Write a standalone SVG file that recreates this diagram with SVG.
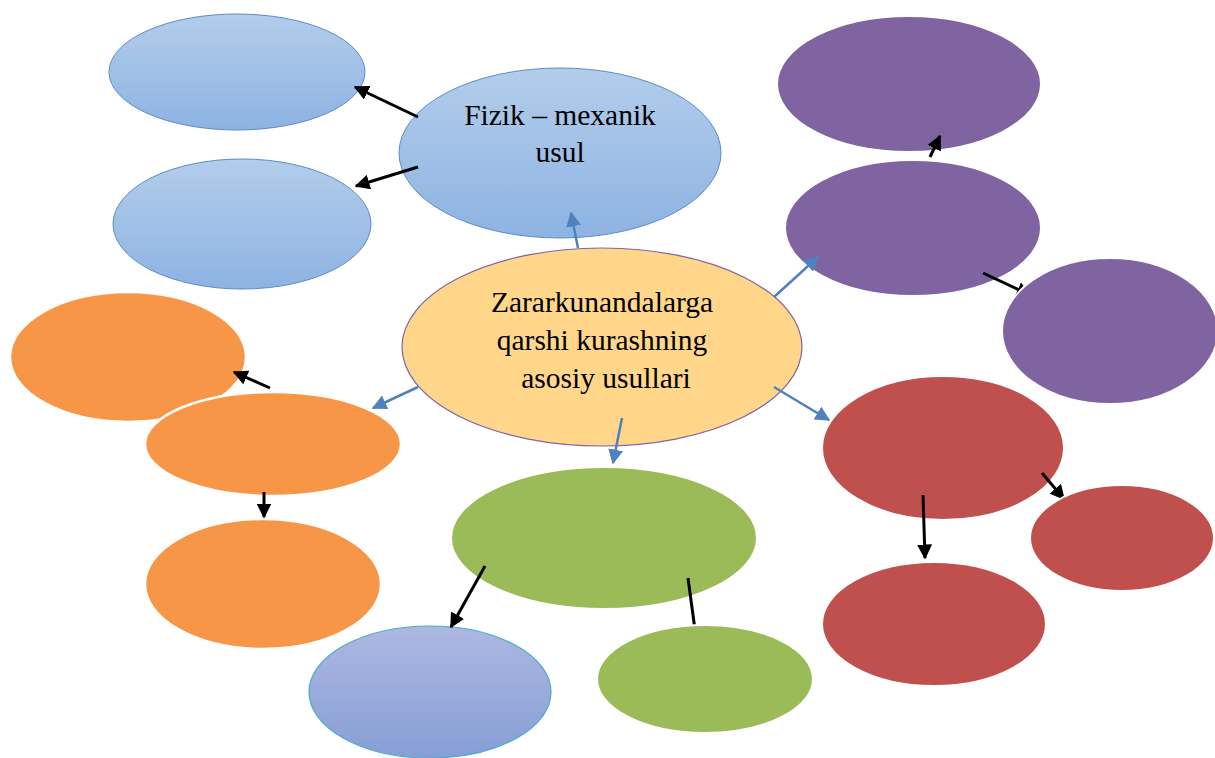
<svg xmlns="http://www.w3.org/2000/svg" width="1215" height="758" viewBox="0 0 1215 758">
<defs>
<linearGradient id="gBlue" x1="0" y1="0" x2="0" y2="1"><stop offset="0" stop-color="#B3CDEB"/><stop offset="1" stop-color="#8DB3E2"/></linearGradient>
<linearGradient id="gViolet" x1="0" y1="0" x2="0" y2="1"><stop offset="0" stop-color="#ADB8E2"/><stop offset="1" stop-color="#879ED5"/></linearGradient>
<marker id="bk" viewBox="0 0 10 10" refX="9" refY="5" markerWidth="5" markerHeight="5" orient="auto" markerUnits="strokeWidth"><path d="M0,0 L10,5 L0,10 z" fill="#000"/></marker>
<marker id="bl" viewBox="0 0 10 10" refX="9" refY="5" markerWidth="6" markerHeight="6" orient="auto" markerUnits="strokeWidth"><path d="M0,0 L10,5 L0,10 z" fill="#4F81BD"/></marker>
</defs>
<style>
.blue{fill:url(#gBlue);stroke:#5B8BC7;stroke-width:1}
.vio{fill:url(#gViolet);stroke:#4BACC6;stroke-width:1.2}
.pur{fill:#8064A2;stroke:#fff;stroke-width:2}
.org{fill:#F79646;stroke:#fff;stroke-width:2.5}
.red{fill:#C0504D;stroke:#fff;stroke-width:2}
.grn{fill:#9BBB59;stroke:#fff;stroke-width:2}
.ctr{fill:#FFD68A;stroke:#8064A2;stroke-width:1.2}
.k{stroke:#000;stroke-width:3;fill:none;marker-end:url(#bk)}
.b{stroke:#4F81BD;stroke-width:2.5;fill:none;marker-end:url(#bl)}
text{font-family:"Liberation Serif","Times New Roman",serif;font-size:29.5px;fill:#000;text-anchor:middle}
</style>
<rect width="1215" height="758" fill="#fff"/>
<g id="n-blue1"><ellipse class="blue" cx="237" cy="72" rx="128" ry="58"/></g>
<g id="n-blue2"><ellipse class="blue" cx="242" cy="224" rx="129" ry="65"/></g>
<g id="n-fizik"><ellipse class="blue" cx="560" cy="153" rx="161" ry="85"/><text x="560" y="125">Fizik – mexanik</text><text x="560" y="162">usul</text></g>
<g id="n-pur1"><ellipse class="pur" cx="909" cy="84" rx="132" ry="68"/></g>
<g id="n-pur2"><ellipse class="pur" cx="913" cy="228" rx="128" ry="68"/></g>
<g id="n-center"><ellipse class="ctr" cx="602" cy="347" rx="200" ry="99"/><text x="602" y="312">Zararkunandalarga</text><text x="602" y="350">qarshi kurashning</text><text x="606" y="388">asosiy usullari</text></g>
<g id="n-org1"><ellipse class="org" cx="128" cy="357" rx="118" ry="65"/></g>
<g id="n-org2"><ellipse class="org" cx="273" cy="444" rx="128" ry="52"/></g>
<g id="n-org3"><ellipse class="org" cx="263" cy="584" rx="118" ry="65"/></g>
<g id="n-red1"><ellipse class="red" cx="943" cy="448" rx="121" ry="72"/></g>
<g id="n-red3"><ellipse class="red" cx="934" cy="624" rx="112" ry="62"/></g>
<g id="n-grn1"><ellipse class="grn" cx="604" cy="538" rx="153" ry="71"/></g>
<g id="n-vio"><ellipse class="vio" cx="430" cy="692" rx="121" ry="66"/></g>
<g id="connectors">
<line class="k" x1="418" y1="117" x2="355" y2="87"/>
<line class="k" x1="418" y1="167" x2="356" y2="186"/>
<line class="b" x1="578" y1="248" x2="571" y2="213"/>
<line class="b" x1="774" y1="297" x2="818" y2="257"/>
<line class="k" x1="930" y1="157" x2="940" y2="136"/>
<line class="k" x1="983" y1="273" x2="1030" y2="295"/>
<line class="b" x1="418" y1="387" x2="373" y2="408"/>
<line class="b" x1="622" y1="418" x2="613" y2="463"/>
<line class="b" x1="774" y1="387" x2="829" y2="420"/>
<line class="k" x1="270" y1="388" x2="234" y2="372"/>
<line class="k" x1="264" y1="492" x2="264" y2="517"/>
<line class="k" x1="485" y1="566" x2="451" y2="627"/>
<line class="k" x1="688" y1="578" x2="696.5" y2="641"/>
<line class="k" x1="923" y1="495" x2="925" y2="558"/>
<line class="k" x1="1042" y1="473" x2="1064" y2="499"/>
</g>
<g id="n-pur3"><ellipse class="pur" cx="1110" cy="331" rx="108" ry="73"/></g>
<g id="n-grn2"><ellipse class="grn" cx="705" cy="679" rx="108" ry="54"/></g>
<g id="n-red2"><ellipse class="red" cx="1122" cy="538" rx="92" ry="53"/></g>
</svg>
